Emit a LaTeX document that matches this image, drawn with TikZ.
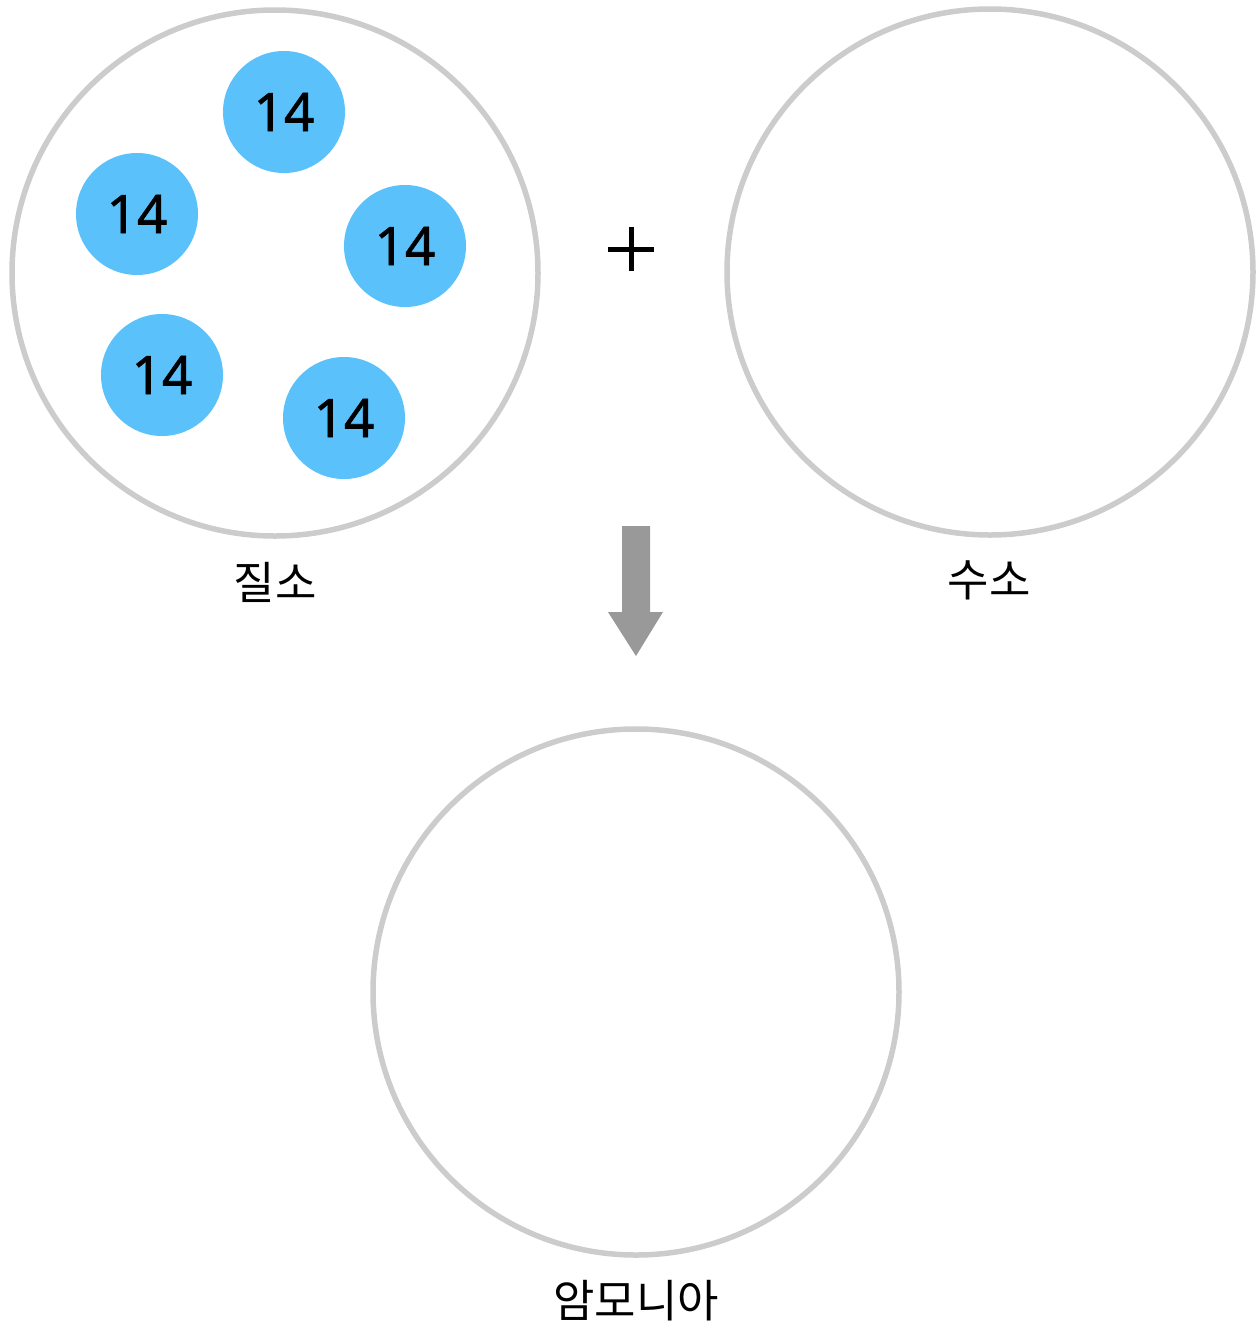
\documentclass[tikz,border=0pt]{standalone}
\usepackage{fontspec}
\newfontfamily\kr{Noto Sans CJK KR}
\newfontfamily\dig[FakeBold=1.2]{Noto Sans}
\definecolor{ring}{HTML}{CCCCCC}
\definecolor{atom}{HTML}{5AC1FB}
\definecolor{arr}{HTML}{999999}
\begin{document}
\begin{tikzpicture}[x=1pt,y=-1pt,
  bigring/.style={circle,draw=ring,line width=5.5pt,minimum size=526pt,inner sep=0pt},
  atomnode/.style={circle,fill=atom,minimum size=122pt,inner sep=0pt,font=\dig\fontsize{53}{53}\selectfont},
  lbl/.style={font=\kr\fontsize{45}{45}\selectfont,inner sep=0pt}]
\useasboundingbox (0,0) rectangle (1258,1326);
\node[bigring] (n2) at (275,273) {};
\node[bigring] (h2) at (990,272) {};
\node[bigring] (nh3) at (636,992) {};
\node[atomnode] (a1) at (284,112) {14};
\node[atomnode] (a2) at (137,214) {14};
\node[atomnode] (a3) at (405,246) {14};
\node[atomnode] (a4) at (162,375) {14};
\node[atomnode] (a5) at (344,418) {14};
\node[lbl] (l1) at (275,582) {질소};
\node[lbl] (l2) at (989,580) {수소};
\node[lbl] (l3) at (636,1301) {암모니아};
\coordinate (p) at (631,249);
\draw[line width=5pt] ([xshift=-23pt]p) -- ([xshift=23pt]p);
\draw[line width=5pt] ([yshift=-22pt]p) -- ([yshift=22pt]p);
\fill[arr] (622,526) -- (650,526) -- (650,612) -- (663,612) -- (636,656) -- (608,612) -- (622,612) -- cycle;
\end{tikzpicture}
\end{document}
